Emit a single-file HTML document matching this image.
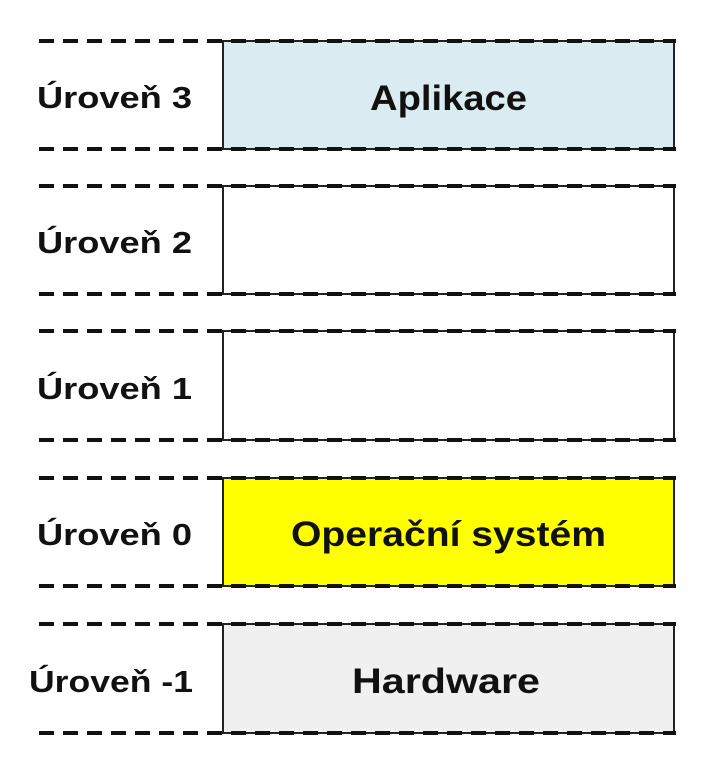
<!DOCTYPE html>
<html><head><meta charset="utf-8"><style>
body{margin:0;background:#fff;width:715px;height:765px;overflow:hidden}
</style></head><body>
<svg width="715" height="765" xmlns="http://www.w3.org/2000/svg" font-family="'Liberation Sans', sans-serif" font-weight="bold">
<g stroke="#222" stroke-width="2">
<rect x="223" y="41" width="451" height="108" fill="#daebf2"/>
<rect x="223" y="186" width="451" height="108" fill="#fff"/>
<rect x="223" y="331" width="451" height="109" fill="#fff"/>
<rect x="223" y="478" width="451" height="108" fill="#ffff00"/>
<rect x="223" y="624" width="451" height="109" fill="#f0f0f0"/>
</g>
<g stroke="#111" stroke-width="4" stroke-dasharray="15 9">
<line x1="39" y1="41" x2="676" y2="41"/><line x1="39" y1="149" x2="676" y2="149"/>
<line x1="39" y1="186" x2="676" y2="186"/><line x1="39" y1="294" x2="676" y2="294"/>
<line x1="39" y1="331" x2="676" y2="331"/><line x1="39" y1="440" x2="676" y2="440"/>
<line x1="39" y1="478" x2="676" y2="478"/><line x1="39" y1="586" x2="676" y2="586"/>
<line x1="39" y1="624" x2="676" y2="624"/><line x1="39" y1="733" x2="676" y2="733"/>
</g>
<g font-size="31" fill="#111">
<text x="37" y="108" textLength="155" lengthAdjust="spacingAndGlyphs">Úroveň 3</text>
<text x="37" y="253" textLength="155" lengthAdjust="spacingAndGlyphs">Úroveň 2</text>
<text x="37" y="399" textLength="155" lengthAdjust="spacingAndGlyphs">Úroveň 1</text>
<text x="37" y="545" textLength="155" lengthAdjust="spacingAndGlyphs">Úroveň 0</text>
<text x="29" y="692" textLength="164" lengthAdjust="spacingAndGlyphs">Úroveň -1</text>
</g>
<g font-size="35" fill="#111">
<text x="370" y="110" textLength="157" lengthAdjust="spacingAndGlyphs">Aplikace</text>
<text x="291" y="546" textLength="315" lengthAdjust="spacingAndGlyphs">Operační systém</text>
<text x="352" y="693" textLength="188" lengthAdjust="spacingAndGlyphs">Hardware</text>
</g>
</svg>
</body></html>
